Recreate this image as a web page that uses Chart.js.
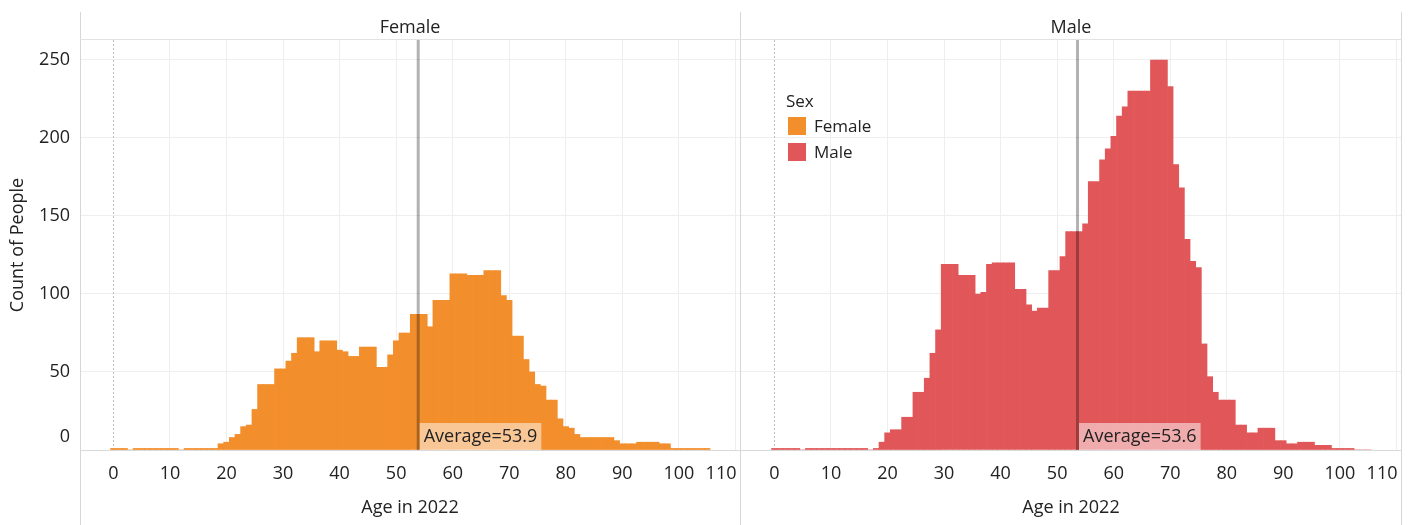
<!DOCTYPE html>
<html>
<head>
<meta charset="utf-8">
<title>Age in 2022 by Sex</title>
<script src="https://cdn.jsdelivr.net/npm/chart.js@4.4.0/dist/chart.umd.min.js"></script>
<style>
  html, body { margin: 0; padding: 0; background: #fff; }
  body {
    width: 1416px; height: 525px; position: relative; overflow: hidden;
    font-family: 'Open Sans', sans-serif; color: #222;
  }
  canvas { position: absolute; top: 0; }
  #femaleChart { left: 0; }
  #maleChart { left: 741px; }
  .vline { position: absolute; top: 12px; width: 1px; height: 513px; background: #d6d6d6; }
  .hline { position: absolute; left: 80px; width: 1322px; height: 1px; background: #e2e2e2; }
  .header { position: absolute; top: 12px; height: 28px; line-height: 28px; text-align: center; font-size: 18px; }
  .legend { position: absolute; left: 786px; top: 90px; font-size: 17px; line-height: 22px; }
  .legend .item { position: relative; height: 26px; padding-left: 28px; }
  .legend .swatch { position: absolute; left: 2px; top: 2px; width: 18px; height: 18px; }
</style>
</head>
<body>

<canvas id="femaleChart" width="740" height="525"></canvas>
<canvas id="maleChart" width="660" height="525"></canvas>

<!-- pane frame, Tableau style -->
<div class="vline" style="left:80px"></div>
<div class="vline" style="left:740px"></div>
<div class="vline" style="left:1401px"></div>
<div class="hline" style="top:39px"></div>
<div class="hline" style="top:450px; background:#d9d9d9"></div>

<div class="header" style="left:80px; width:660px">Female</div>
<div class="header" style="left:741px; width:660px">Male</div>

<div class="legend">
  <div style="margin-bottom:3px">Sex</div>
  <div class="item"><span class="swatch" style="background:#F28E2B"></span>Female</div>
  <div class="item"><span class="swatch" style="background:#E15759"></span>Male</div>
</div>

<script>
/* ============================================
   DATA
   ============================================ */

const AGES = [
  0, 1, 2, 3, 4, 5, 6, 7, 8, 9,
  10, 11, 12, 13, 14, 15, 16, 17, 18, 19,
  20, 21, 22, 23, 24, 25, 26, 27, 28, 29,
  30, 31, 32, 33, 34, 35, 36, 37, 38, 39,
  40, 41, 42, 43, 44, 45, 46, 47, 48, 49,
  50, 51, 52, 53, 54, 55, 56, 57, 58, 59,
  60, 61, 62, 63, 64, 65, 66, 67, 68, 69,
  70, 71, 72, 73, 74, 75, 76, 77, 78, 79,
  80, 81, 82, 83, 84, 85, 86, 87, 88, 89,
  90, 91, 92, 93, 94, 95, 96, 97, 98, 99,
  100, 101, 102, 103, 104, 105
];

// count of people per age, one entry per AGES item
const FEMALE_COUNTS = [
  1, 1, 1, 0, 1, 1, 1, 1, 1, 1,
  1, 1, 0, 1, 1, 1, 1, 1, 1, 4,
  5, 8, 10, 15, 16, 26, 42, 42, 42, 52,
  52, 57, 62, 72, 72, 72, 63, 70, 70, 70,
  64, 63, 60, 60, 66, 66, 66, 53, 53, 61,
  70, 75, 75, 87, 87, 87, 79, 96, 96, 96,
  113, 113, 113, 112, 112, 112, 115, 115, 115, 99,
  96, 73, 73, 58, 50, 42, 41, 32, 32, 20,
  15, 14, 10, 8, 8, 8, 8, 8, 8, 6,
  4, 4, 4, 5, 5, 5, 5, 4, 4, 1,
  1, 1, 1, 1, 1, 1
];

const MALE_COUNTS = [
  1, 1, 1, 1, 1, 0, 1, 1, 1, 1,
  1, 1, 1, 1, 1, 1, 1, 0, 1, 5,
  11, 13, 13, 21, 21, 37, 37, 46, 62, 77,
  119, 119, 119, 112, 112, 112, 100, 101, 119, 120,
  120, 120, 120, 103, 103, 93, 89, 91, 91, 115,
  115, 124, 140, 140, 140, 145, 172, 172, 186, 193,
  201, 214, 220, 230, 230, 230, 230, 250, 250, 250,
  233, 183, 168, 135, 121, 117, 68, 47, 37, 32,
  32, 32, 16, 16, 11, 11, 14, 14, 14, 6,
  6, 4, 4, 5, 5, 5, 3, 3, 3, 1,
  1, 1, 1, 0, 0, 0
];

const FEMALE_AVERAGE = 53.9;
const MALE_AVERAGE = 53.6;

const X_TICKS = [0, 10, 20, 30, 40, 50, 60, 70, 80, 90, 100, 110];
const Y_TICKS = [0, 50, 100, 150, 200, 250];

const FEMALE_COLOR = '#F28E2B';
const MALE_COLOR = '#E15759';

/* ============================================
   CHART SETUP
   ============================================ */

const FONT = "'Open Sans', sans-serif";
const TEXT_COLOR = '#222';
const GRID_COLOR = '#eeeeee';
const TICK_PAD = 13;

Chart.defaults.font.family = FONT;
Chart.defaults.font.size = 18;
Chart.defaults.color = TEXT_COLOR;

// dotted zero line, average reference line and the labels Tableau nudges inward
const paneDecor = {
  id: 'paneDecor',
  beforeDatasetsDraw(chart) {
    const { ctx, chartArea: a, scales: { x } } = chart;
    const px = Math.round(x.getPixelForValue(0)) + 0.5;
    ctx.save();
    ctx.strokeStyle = '#bdbdbd';
    ctx.lineWidth = 1;
    ctx.setLineDash([2, 2]);
    ctx.beginPath();
    ctx.moveTo(px, a.top);
    ctx.lineTo(px, a.bottom);
    ctx.stroke();
    ctx.restore();
  },
  afterDatasetsDraw(chart, args, opts) {
    const { ctx, chartArea: a, scales: { x } } = chart;
    const px = x.getPixelForValue(opts.average);
    ctx.save();
    ctx.strokeStyle = 'rgba(0, 0, 0, 0.3)';
    ctx.lineWidth = 3;
    ctx.beginPath();
    ctx.moveTo(px, a.top);
    ctx.lineTo(px, a.bottom);
    ctx.stroke();

    const text = 'Average=' + opts.average.toFixed(1);
    ctx.font = '18px ' + FONT;
    const w = ctx.measureText(text).width + 8;
    ctx.fillStyle = 'rgba(255, 255, 255, 0.5)';
    ctx.fillRect(px + 1.5, a.bottom - 27, w, 27);
    ctx.fillStyle = TEXT_COLOR;
    ctx.textBaseline = 'middle';
    ctx.fillText(text, px + 5.5, a.bottom - 13);
    ctx.restore();
  },
  afterDraw(chart, args, opts) {
    const { ctx, scales: { x, y } } = chart;
    ctx.save();
    ctx.font = '18px ' + FONT;
    ctx.fillStyle = TEXT_COLOR;
    ctx.textAlign = 'right';
    ctx.textBaseline = 'middle';
    const last = X_TICKS[X_TICKS.length - 1];
    ctx.fillText(String(last), x.getPixelForValue(last) + 1, x.top + TICK_PAD + 10.8);
    if (opts.yZeroLabel) {
      ctx.fillText('0', y.right - 10, y.getPixelForValue(0) - 13);
    }
    ctx.restore();
  }
};

function buildPoints(counts) {
  return AGES.map((age, i) => ({ x: age, y: counts[i] }));
}

function renderPane(canvasId, counts, color, average, withYAxis) {
  const canvas = document.getElementById(canvasId);
  const ctx = canvas.getContext('2d');
  const lastX = X_TICKS[X_TICKS.length - 1];

  return new Chart(ctx, {
    type: 'bar',
    data: {
      datasets: [{
        data: buildPoints(counts),
        backgroundColor: color,
        borderWidth: 0,
        barPercentage: 1,
        categoryPercentage: 1,
      }]
    },
    options: {
      responsive: false,
      animation: false,
      layout: { padding: { top: 40, right: 0, bottom: 0, left: 0 } },
      plugins: {
        legend: { display: false },
        tooltip: { enabled: false },
        paneDecor: { average: average, yZeroLabel: withYAxis },
      },
      scales: {
        x: {
          type: 'linear',
          offset: false,
          min: -5.9,
          max: 110.8,
          afterBuildTicks: s => { s.ticks = X_TICKS.map(v => ({ value: v })); },
          afterFit: s => {
            s.height = 75;
            // the pane edge is fixed; do not let label overhang shrink it
            s.paddingLeft = 0;
            s.paddingRight = 0;
          },
          ticks: {
            padding: TICK_PAD,
            maxRotation: 0,
            autoSkip: false,
            callback: v => (v === lastX ? '' : v),
          },
          grid: {
            offset: false,
            drawTicks: false,
            color: c => (c.tick && c.tick.value === 0 ? 'rgba(0,0,0,0)' : GRID_COLOR),
          },
          border: { display: false },
          title: {
            display: true,
            text: 'Age in 2022',
            padding: { top: 0, bottom: 6 },
          },
        },
        y: {
          min: 0,
          max: 262.8,
          afterBuildTicks: s => { s.ticks = Y_TICKS.map(v => ({ value: v })); },
          afterFit: s => {
            s.width = withYAxis ? 80 : 0;
            s.paddingTop = 0;
            s.paddingBottom = 0;
          },
          ticks: {
            display: withYAxis,
            padding: 10,
            callback: v => (v === 0 ? '' : v),
          },
          grid: { drawTicks: false, color: GRID_COLOR },
          border: { display: false },
          title: {
            display: withYAxis,
            text: 'Count of People',
            padding: { top: 7, bottom: 0 },
          },
        },
      },
    },
    plugins: [paneDecor],
  });
}

renderPane('femaleChart', FEMALE_COUNTS, FEMALE_COLOR, FEMALE_AVERAGE, true);
renderPane('maleChart', MALE_COUNTS, MALE_COLOR, MALE_AVERAGE, false);
</script>
</body>
</html>
